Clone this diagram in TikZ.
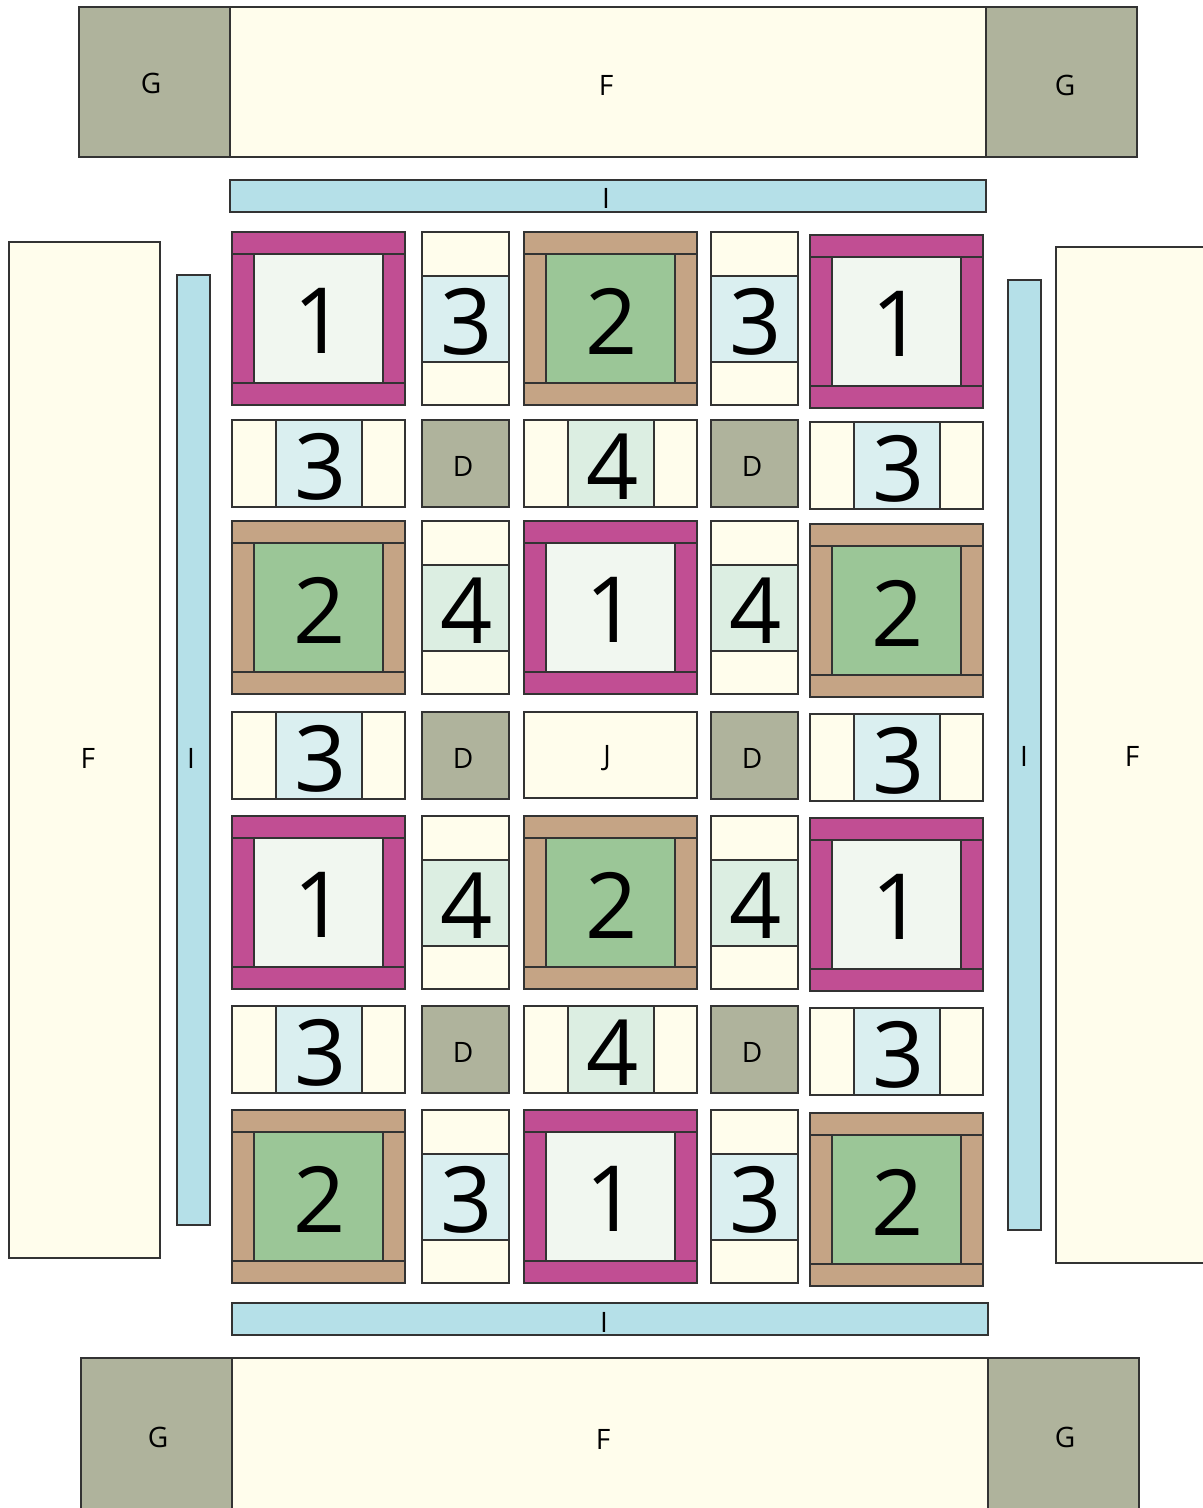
\documentclass[tikz,border=0pt]{standalone}
\usepackage{fontspec}
\setmainfont{Open Sans}

\definecolor{plum}{HTML}{C14E93}
\definecolor{tan}{HTML}{C5A485}
\definecolor{leaf}{HTML}{9BC697}
\definecolor{pale}{HTML}{F1F7F0}
\definecolor{sky}{HTML}{DAEFF0}
\definecolor{mint}{HTML}{DCEEE2}
\definecolor{cream}{HTML}{FFFDEC}
\definecolor{sage}{HTML}{AFB39C}
\definecolor{sash}{HTML}{B5E0E8}

\tikzset{
  patch/.style={draw=black!80, line width=0.8pt},
  big/.style={font=\fontsize{52}{52}\selectfont, inner sep=0pt},
  small/.style={font=\fontsize{16}{16}\selectfont, inner sep=0pt},
}

% framed block: x, y (top left), frame colour, centre colour, label, name
\newcommand{\frameblk}[6]{%
  \draw[patch,fill=#3] (#1,#2) rectangle ++(173,22);
  \draw[patch,fill=#3] (#1,#2+151) rectangle ++(173,22);
  \draw[patch,fill=#3] (#1,#2+22) rectangle ++(22,129);
  \draw[patch,fill=#3] (#1+151,#2+22) rectangle ++(22,129);
  \draw[patch,fill=#4] (#1+22,#2+22) rectangle ++(129,129);
  \node[big] (#6) at (#1+88,#2+89) {#5};
}
% upright strip block: x, y, colour, label, name
\newcommand{\vblk}[5]{%
  \draw[patch,fill=cream] (#1,#2) rectangle ++(87,44);
  \draw[patch,fill=#3] (#1,#2+44) rectangle ++(87,86);
  \draw[patch,fill=cream] (#1,#2+130) rectangle ++(87,43);
  \node[big] (#5) at (#1+45,#2+90) {#4};
}
% lying strip block: x, y, colour, label, name
\newcommand{\hblk}[5]{%
  \draw[patch,fill=cream] (#1,#2) rectangle ++(44,87);
  \draw[patch,fill=#3] (#1+44,#2) rectangle ++(86,87);
  \draw[patch,fill=cream] (#1+130,#2) rectangle ++(43,87);
  \node[big] (#5) at (#1+89,#2+46.5) {#4};
}

\begin{document}
\begin{tikzpicture}[x=0.02cm,y=-0.02cm]
  \useasboundingbox (0,0) rectangle (1203,1508);
  \clip (0,0) rectangle (1203,1508);

  % outer border
  \draw[patch,fill=sage] (79,7) rectangle (230,157);
  \draw[patch,fill=cream] (230,7) rectangle (986,157);
  \draw[patch,fill=sage] (986,7) rectangle (1137,157);
  \node[small] (gtl) at (151,83) {G};
  \node[small] (ftop) at (606,85) {F};
  \node[small] (gtr) at (1065,85) {G};
  \draw[patch,fill=sage] (81,1358) rectangle (232,1520);
  \draw[patch,fill=cream] (232,1358) rectangle (988,1520);
  \draw[patch,fill=sage] (988,1358) rectangle (1139,1520);
  \node[small] (gbl) at (158,1437) {G};
  \node[small] (fbot) at (603,1439) {F};
  \node[small] (gbr) at (1065,1437) {G};
  \draw[patch,fill=cream] (9,242) rectangle (160,1258);
  \node[small] (fleft) at (88,758) {F};
  \draw[patch,fill=cream] (1056,247) rectangle (1220,1263);
  \node[small] (fright) at (1132,756) {F};

  % sashing
  \draw[patch,fill=sash] (230,180) rectangle (986,212);
  \node[small] (itop) at (606,198) {I};
  \draw[patch,fill=sash] (232,1303) rectangle (988,1335);
  \node[small] (ibot) at (604,1322) {I};
  \draw[patch,fill=sash] (177,275) rectangle (210,1225);
  \node[small] (ileft) at (191,758) {I};
  \draw[patch,fill=sash] (1008,280) rectangle (1041,1230);
  \node[small] (iright) at (1024,756) {I};

  % framed blocks
  \foreach \x/\y/\fr/\ct/\t [count=\i] in {232/232/plum/pale/1, 524/232/tan/leaf/2, 810/235/plum/pale/1,
      232/521/tan/leaf/2, 524/521/plum/pale/1, 810/524/tan/leaf/2,
      232/816/plum/pale/1, 524/816/tan/leaf/2, 810/818/plum/pale/1,
      232/1110/tan/leaf/2, 524/1110/plum/pale/1, 810/1113/tan/leaf/2}
    {\frameblk{\x}{\y}{\fr}{\ct}{\t}{fb\i}}

  % upright strips
  \foreach \x/\y/\c/\t [count=\i] in {422/232/sky/3, 711/232/sky/3, 422/521/mint/4, 711/521/mint/4,
      422/816/mint/4, 711/816/mint/4, 422/1110/sky/3, 711/1110/sky/3}
    {\vblk{\x}{\y}{\c}{\t}{vb\i}}

  % lying strips
  \foreach \x/\y/\c/\t [count=\i] in {232/420/sky/3, 524/420/mint/4, 810/422/sky/3,
      232/712/sky/3, 810/714/sky/3,
      232/1006/sky/3, 524/1006/mint/4, 810/1008/sky/3}
    {\hblk{\x}{\y}{\c}{\t}{hb\i}}

  % cornerstones
  \foreach \x/\y [count=\i] in {422/420, 711/420, 422/712, 711/712, 422/1006, 711/1006} {
    \draw[patch,fill=sage] (\x,\y) rectangle ++(87,87);
    \node[small] (d\i) at (\x+41,\y+46) {D};
  }

  % centre
  \draw[patch,fill=cream] (524,712) rectangle (697,798);
  \node[small] (j) at (607,758) {J};
\end{tikzpicture}
\end{document}
